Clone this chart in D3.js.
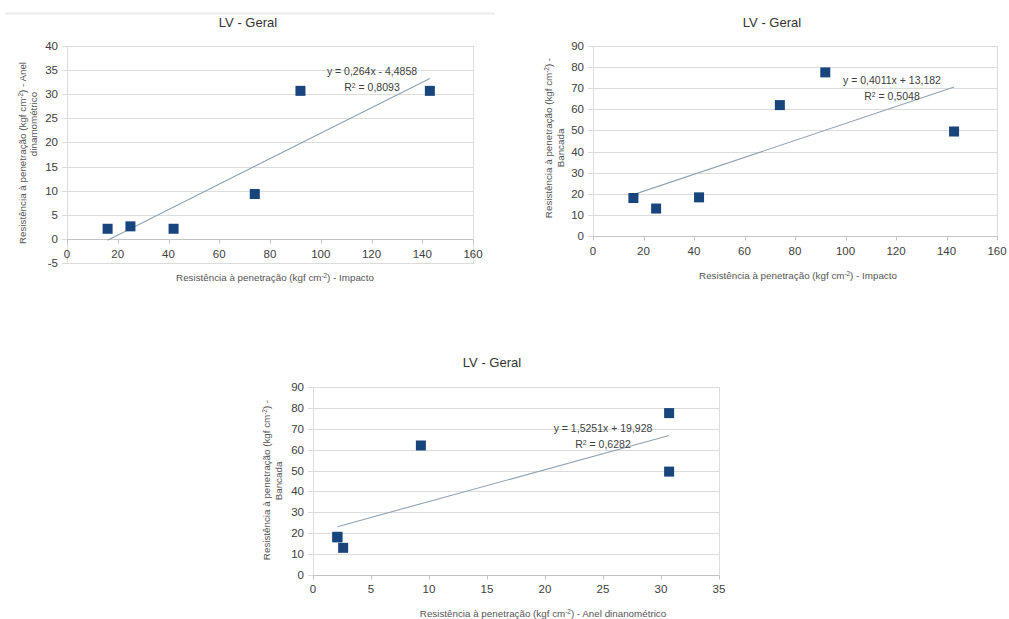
<!DOCTYPE html>
<html>
<head>
<meta charset="utf-8">
<script src="https://cdn.jsdelivr.net/npm/d3@7"></script>
<style>
  html, body { margin: 0; padding: 0; background: #fff; }
  svg { display: block; font-family: "Liberation Sans", Arial, sans-serif; }
</style>
</head>
<body>
<svg id="chart" width="1009" height="619"></svg>
<script>
// ── data ───────────────────────────────────────────────────────────────
const impacto  = [16, 25, 42, 74, 92, 143];        // kgf cm-2, impacto
const anel     = [2.1, 2.6, 2.1, 9.3, 30.7, 30.7]; // kgf cm-2, anel dinamométrico
const bancada  = [18, 13, 18.3, 62, 77.5, 49.5];   // kgf cm-2, bancada

const slopes     = [0.264, 0.4011, 1.5251];
const intercepts = [-4.4858, 13.182, 19.928];
const eqLabels   = ["y = 0,264x - 4,4858", "y = 0,4011x + 13,182", "y = 1,5251x + 19,928"];
const r2Labels   = ["0,8093", "0,5048", "0,6282"];

const xDomains = [[0, 160], [0, 160], [0, 35]];
const yDomains = [[-5, 40], [0, 90], [0, 90]];
const xTicks   = [d3.range(0, 161, 20), d3.range(0, 161, 20), d3.range(0, 36, 5)];
const yTicks   = [d3.range(-5, 41, 5), d3.range(0, 91, 10), d3.range(0, 91, 10)];

const titleText = "LV - Geral";
const base = "Resistência à penetração (kgf cm";
const xTitleTails = [") - Impacto", ") - Impacto", ") - Anel dinanométrico"];
const yTitleTails = [[") - Anel", "dinamométrico"], [") -", "Bancada"], [") -", "Bancada"]];

// ── layout (pixels) ────────────────────────────────────────────────────
const panels = [
  { left: 67,  right: 473, top: 46,  bottom: 263, titleX: 248, titleY: 27,
    xLabY: 258, xTitleX: 275, xTitleY: 281,
    yT1: [22, 153], yT2: [33, 124], eq: [372, 75], r2: [372, 91] },
  { left: 593, right: 997, top: 46,  bottom: 236, titleX: 772, titleY: 27,
    xLabY: 255, xTitleX: 798, xTitleY: 279,
    yT1: [548, 138], yT2: [560, 148], eq: [892, 84], r2: [892, 100] },
  { left: 313, right: 719, top: 387, bottom: 575, titleX: 492, titleY: 367,
    xLabY: 593, xTitleX: 543, xTitleY: 617,
    yT1: [266, 480], yT2: [278, 481], eq: [603, 432], r2: [603, 448] }
];

const svg = d3.select("#chart");
const markerColor = "#17457c";
const gridColor = "#dcdcdc";
const textColor = "#404040";

// faint frame line on top of first chart
svg.append("line")
  .attr("x1", 5).attr("x2", 495).attr("y1", 13.5).attr("y2", 13.5)
  .attr("stroke", "#ececec").attr("stroke-width", 2);

// text with superscript "-2"
function supText(sel, pre, post) {
  sel.append("tspan").text(pre);
  sel.append("tspan").attr("baseline-shift", "super").attr("font-size", "0.65em").text("-2");
  sel.append("tspan").text(post);
}

function drawPanel(i, xs, ys) {
  const p = panels[i];
  const g = svg.append("g");

  const x = d3.scaleLinear().domain(xDomains[i]).range([p.left, p.right]);
  const y = d3.scaleLinear().domain(yDomains[i]).range([p.bottom, p.top]);

  // grid lines (with short tick stubs left of plot)
  g.selectAll(".grid").data(yTicks[i]).enter().append("line")
    .attr("x1", p.left - 5).attr("x2", p.right)
    .attr("y1", d => Math.round(y(d)) + 0.5).attr("y2", d => Math.round(y(d)) + 0.5)
    .attr("stroke", gridColor).attr("stroke-width", 1);

  // plot border
  g.append("rect")
    .attr("x", p.left + 0.5).attr("y", p.top + 0.5)
    .attr("width", p.right - p.left).attr("height", p.bottom - p.top)
    .attr("fill", "none").attr("stroke", gridColor);

  // axis at zero
  const y0 = Math.round(y(0)) + 0.5;
  g.append("line").attr("x1", p.left).attr("x2", p.right)
    .attr("y1", y0).attr("y2", y0).attr("stroke", "#c4c4c4");
  g.selectAll(".xtick").data(xTicks[i]).enter().append("line")
    .attr("x1", d => Math.round(x(d)) + 0.5).attr("x2", d => Math.round(x(d)) + 0.5)
    .attr("y1", y0).attr("y2", y0 + 4).attr("stroke", "#c4c4c4");

  // y tick labels
  g.selectAll(".ylab").data(yTicks[i]).enter().append("text")
    .attr("x", p.left - 9).attr("y", d => y(d) + 4)
    .attr("text-anchor", "end").attr("font-size", 11.5).attr("fill", textColor)
    .text(d => d);

  // x tick labels
  g.selectAll(".xlab").data(xTicks[i]).enter().append("text")
    .attr("x", d => x(d)).attr("y", p.xLabY)
    .attr("text-anchor", "middle").attr("font-size", 11.5).attr("fill", textColor)
    .text(d => d);

  // trend line between min and max x
  const [xmin, xmax] = d3.extent(xs);
  g.append("line")
    .attr("x1", x(xmin)).attr("y1", y(slopes[i] * xmin + intercepts[i]))
    .attr("x2", x(xmax)).attr("y2", y(slopes[i] * xmax + intercepts[i]))
    .attr("stroke", "#8fa3b3").attr("stroke-width", 1.1);

  // markers
  const s = 10;
  g.selectAll(".pt").data(xs.map((v, k) => [v, ys[k]])).enter().append("rect")
    .attr("x", d => x(d[0]) - s / 2).attr("y", d => y(d[1]) - s / 2)
    .attr("width", s).attr("height", s)
    .attr("fill", markerColor);

  // equation labels
  g.append("text").attr("x", p.eq[0]).attr("y", p.eq[1])
    .attr("text-anchor", "middle").attr("font-size", 10.5).attr("fill", textColor)
    .text(eqLabels[i]);
  const r2 = g.append("text").attr("x", p.r2[0]).attr("y", p.r2[1])
    .attr("text-anchor", "middle").attr("font-size", 10.5).attr("fill", textColor);
  r2.append("tspan").text("R");
  r2.append("tspan").attr("baseline-shift", "super").attr("font-size", "0.65em").text("2");
  r2.append("tspan").text(" = " + r2Labels[i]);

  // title
  g.append("text").attr("x", p.titleX).attr("y", p.titleY)
    .attr("text-anchor", "middle").attr("font-size", 13).attr("fill", "#333")
    .text(titleText);

  // x axis title
  g.append("text").attr("x", p.xTitleX).attr("y", p.xTitleY)
    .attr("text-anchor", "middle").attr("font-size", 9.8).attr("fill", "#555")
    .call(supText, base, xTitleTails[i]);

  // y axis title (two lines)
  g.append("text")
    .attr("transform", `translate(${p.yT1[0] + 3.5},${p.yT1[1]}) rotate(-90)`)
    .attr("text-anchor", "middle").attr("font-size", 9.8).attr("fill", "#555")
    .call(supText, base, yTitleTails[i][0]);
  g.append("text")
    .attr("transform", `translate(${p.yT2[0] + 3.5},${p.yT2[1]}) rotate(-90)`)
    .attr("text-anchor", "middle").attr("font-size", 9.8).attr("fill", "#555")
    .text(yTitleTails[i][1]);
}

drawPanel(0, impacto, anel);
drawPanel(1, impacto, bancada);
drawPanel(2, anel, bancada);
</script>
</body>
</html>
